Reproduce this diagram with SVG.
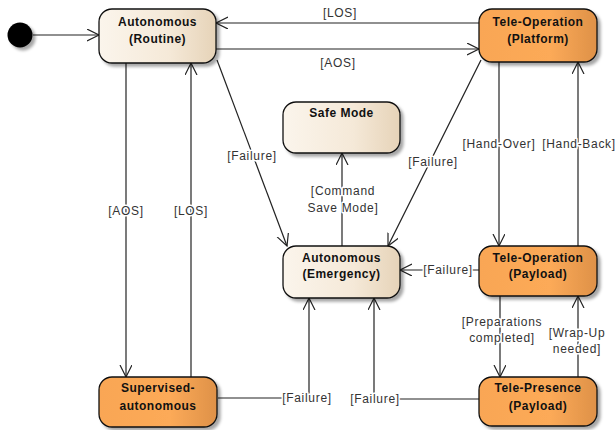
<svg xmlns="http://www.w3.org/2000/svg" width="615" height="430" viewBox="0 0 615 430">
<style>
.node{stroke:#111;stroke-width:1.3;filter:url(#sh)}
.beige{fill:url(#gb)}
.orange{fill:url(#go)}
.nt{font-family:"Liberation Sans",Arial,sans-serif;font-size:12px;font-weight:bold;letter-spacing:0.5px;fill:#111;text-anchor:middle}
.el{font-family:"Liberation Sans",Arial,sans-serif;font-size:12px;letter-spacing:0.7px;fill:#333;text-anchor:middle;stroke:#fff;stroke-width:3;paint-order:stroke;stroke-linejoin:round}
.edge{fill:none;stroke:#222;stroke-width:1.2}
.arr{marker-end:url(#ah)}
</style>
<defs>
<linearGradient id="gb" x1="0" y1="0" x2="1" y2="0">
<stop offset="0" stop-color="#fbf5ec"/>
<stop offset="0.6" stop-color="#f5e9d8"/>
<stop offset="1" stop-color="#e6d3b8"/>
</linearGradient>
<linearGradient id="go" x1="0" y1="0" x2="1" y2="0">
<stop offset="0" stop-color="#f9a654"/>
<stop offset="0.6" stop-color="#fcaa58"/>
<stop offset="1" stop-color="#de9148"/>
</linearGradient>
<filter id="sh" x="-10%" y="-10%" width="130%" height="140%">
<feDropShadow dx="3" dy="3" stdDeviation="1.5" flood-color="#000" flood-opacity="0.35"/>
</filter>
<marker id="ah" markerUnits="userSpaceOnUse" markerWidth="16" markerHeight="16" refX="12" refY="6" orient="auto">
<path d="M0,0 L12,6 L0,12" fill="none" stroke="#222" stroke-width="1.2"/>
</marker>
</defs>

<g id="connectors">
<line class="edge arr" x1="33" y1="35" x2="99" y2="35"/>
<line class="edge arr" x1="216" y1="49" x2="479" y2="49"/>
<line class="edge arr" x1="479" y1="23" x2="216" y2="23"/>
<line class="edge arr" x1="126" y1="63" x2="126" y2="377"/>
<line class="edge arr" x1="191" y1="377" x2="191" y2="63"/>
<line class="edge arr" x1="217" y1="60" x2="287" y2="246"/>
<line class="edge arr" x1="481" y1="60" x2="388" y2="246"/>
<line class="edge arr" x1="342" y1="246" x2="342" y2="153"/>
<line class="edge arr" x1="499" y1="62" x2="499" y2="246"/>
<line class="edge arr" x1="578" y1="246" x2="578" y2="62"/>
<line class="edge arr" x1="479" y1="270" x2="400" y2="270"/>
<line class="edge arr" x1="500" y1="296" x2="500" y2="377"/>
<line class="edge arr" x1="578" y1="377" x2="578" y2="296"/>
<polyline class="edge arr" points="479,399 374,399 374,298"/>
<polyline class="edge arr" points="218,398 309,398 309,298"/>
<text class="el" x="340" y="17">[LOS]</text>
<text class="el" x="338" y="67">[AOS]</text>
<text class="el" x="126" y="215">[AOS]</text>
<text class="el" x="191" y="215">[LOS]</text>
<text class="el" x="252" y="160">[Failure]</text>
<text class="el" x="433" y="166">[Failure]</text>
<text class="el" x="343" y="195">[Command</text>
<text class="el" x="343" y="212">Save Mode]</text>
<text class="el" x="499" y="148">[Hand-Over]</text>
<text class="el" x="579" y="148">[Hand-Back]</text>
<text class="el" x="448" y="274">[Failure]</text>
<text class="el" x="502" y="326">[Preparations</text>
<text class="el" x="502" y="342">completed]</text>
<text class="el" x="577" y="337">[Wrap-Up</text>
<text class="el" x="577" y="353">needed]</text>
<text class="el" x="375" y="403">[Failure]</text>
<text class="el" x="307" y="402">[Failure]</text>
</g>

<g id="initial">
<circle cx="20" cy="35" r="12.5" fill="#000" filter="url(#sh)"/>
</g>
<g id="routine">
<rect class="node beige" x="99" y="9" width="117" height="54" rx="13"/>
<text class="nt" x="157.5" y="26">Autonomous</text>
<text class="nt" x="157.5" y="43">(Routine)</text>
</g>
<g id="platform">
<rect class="node orange" x="479" y="9" width="118" height="53" rx="13"/>
<text class="nt" x="538" y="26">Tele-Operation</text>
<text class="nt" x="538" y="43">(Platform)</text>
</g>
<g id="safemode">
<rect class="node beige" x="283" y="102" width="117" height="51" rx="13"/>
<text class="nt" x="341.5" y="117">Safe Mode</text>
</g>
<g id="emergency">
<rect class="node beige" x="283" y="246" width="117" height="52" rx="13"/>
<text class="nt" x="341.5" y="262">Autonomous</text>
<text class="nt" x="341.5" y="278">(Emergency)</text>
</g>
<g id="payload">
<rect class="node orange" x="479" y="246" width="118" height="50" rx="13"/>
<text class="nt" x="538" y="262">Tele-Operation</text>
<text class="nt" x="538" y="278">(Payload)</text>
</g>
<g id="presence">
<rect class="node orange" x="479" y="377" width="118" height="49" rx="13"/>
<text class="nt" x="538" y="392">Tele-Presence</text>
<text class="nt" x="538" y="410">(Payload)</text>
</g>
<g id="supervised">
<rect class="node orange" x="99" y="377" width="118" height="50" rx="13"/>
<text class="nt" x="158" y="392">Supervised-</text>
<text class="nt" x="158" y="410">autonomous</text>
</g>
</svg>
